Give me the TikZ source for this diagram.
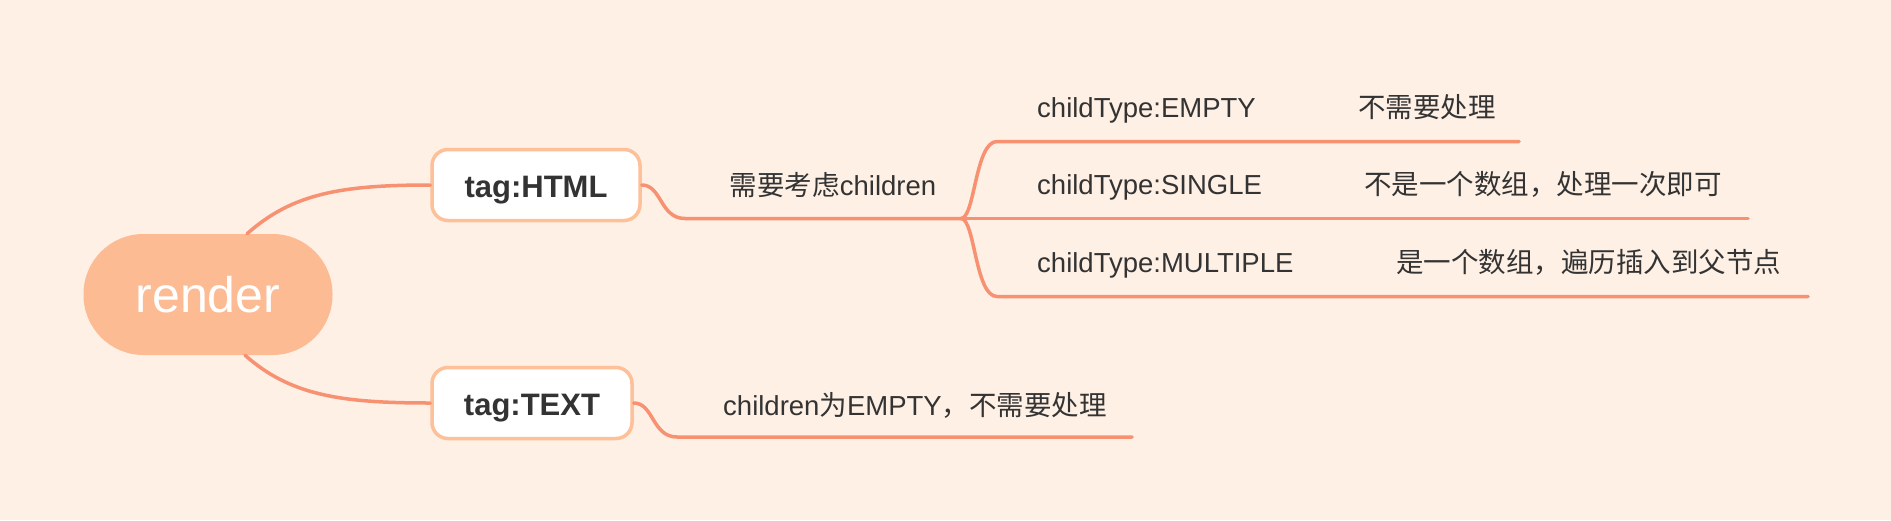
\documentclass[tikz,border=0pt]{standalone}
\usepackage{fontspec}
\setmainfont{Liberation Sans}
\newfontfamily\cjk{Noto Sans CJK SC}
\usepackage{tikz}

\definecolor{bgpeach}{RGB}{254,240,229}
\definecolor{rootfill}{RGB}{253,187,148}
\definecolor{branchline}{RGB}{247,145,114}
\definecolor{boxline}{RGB}{253,192,153}
\definecolor{inktext}{RGB}{51,51,51}

\tikzset{
  rootnode/.style={fill=rootfill, rounded corners=60pt, minimum width=249pt,
    minimum height=121pt, text=white, font=\fontsize{50}{56}\selectfont},
  tagbox/.style={draw=boxline, line width=3.5pt, fill=white, rounded corners=16pt,
    minimum height=71pt, text height=30pt, text depth=6pt, text=inktext,
    font=\bfseries\fontsize{31}{36}\selectfont},
  topic/.style={text=inktext, inner sep=0pt, font=\fontsize{27.5}{32}\selectfont},
  branch/.style={draw=branchline, line width=3.5pt, line cap=round},
}

\begin{document}
\begin{tikzpicture}[x=1pt,y=-1pt]
    % 背景
    \fill[bgpeach] (0,0) rectangle (1891,520);
    \useasboundingbox (0,0) rectangle (1891,520);
    % 中心主题与一级分支
    \node[rootnode] (render) at (208,294.5) {render};
    \node[tagbox, minimum width=208pt] (html) at (536,185) {tag:HTML};
    \node[tagbox, minimum width=200pt] (text) at (532,403) {tag:TEXT};
    \draw[branch] ([xshift=39pt]render.north) .. controls +(45,-40) and +(-90,0) .. (html.west);
    \draw[branch] ([xshift=37pt]render.south) .. controls +(45,40) and +(-90,0) .. (text.west);
    % tag:HTML 的下一级
    \node[topic, anchor=base] (consider) at (833,195) {{\cjk 需要考虑}children};
    \coordinate (html-under) at (685,218.5);
    \coordinate (fork) at (961,218.5);
    \draw[branch] (html.east) .. controls +(20,0) and +(-25,0) .. (html-under) -- (fork);
    \foreach \kind/\ty/\note/\nx/\lend in {%
        EMPTY/107/不需要处理/1358/1519,%
        SINGLE/184/不是一个数组，处理一次即可/1364/1748,%
        MULTIPLE/262/是一个数组，遍历插入到父节点/1396/1808} {
      \node[topic, anchor=base west] (type-\kind) at (1037,\ty+10) {childType:\kind};  % 子类型
      \node[topic, anchor=base west] (note-\kind) at (\nx,\ty+10) {\cjk \note};         % 处理方式
      \coordinate (under-\kind) at (997,\ty+34.5);
      \coordinate (end-\kind) at (\lend,\ty+34.5);
      \draw[branch] (fork) .. controls +(14,0) and +(-22,0) .. (under-\kind) -- (end-\kind);
    }
    % tag:TEXT 的下一级
    \node[topic, anchor=base] (empty-note) at (915,415) {children{\cjk 为}EMPTY{\cjk ，不需要处理}};
    \coordinate (text-under) at (677,437);
    \coordinate (text-end) at (1132,437);
    \draw[branch] (text.east) .. controls +(20,0) and +(-25,0) .. (text-under) -- (text-end);
\end{tikzpicture}
\end{document}
